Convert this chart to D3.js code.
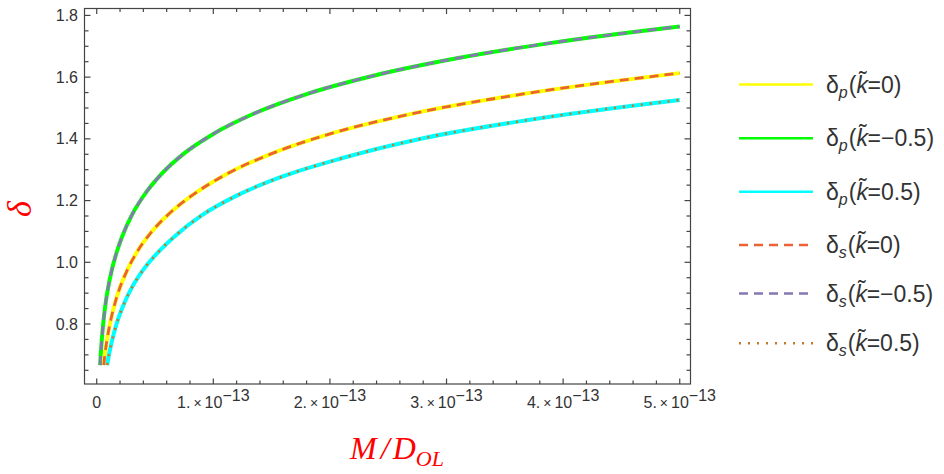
<!DOCTYPE html>
<html>
<head>
<meta charset="utf-8">
<script src="https://cdn.jsdelivr.net/npm/d3@7"></script>
<style>
  body { margin: 0; background: #fff; }
  svg { display: block; font-family: "Liberation Sans", Arial, sans-serif; }
</style>
</head>
<body>
<svg width="944" height="474"></svg>
<script>
// M/D_OL values are in units of 1e-13
const massNeg  = [0.029, 0.035, 0.045, 0.06, 0.08, 0.1, 0.13, 0.17, 0.22, 0.3, 0.4, 0.55, 0.75, 1.0, 1.35, 1.8, 2.4, 3.1, 3.9, 5.0];
const deltaNeg = [0.667, 0.704, 0.756, 0.817, 0.877, 0.922, 0.976, 1.031, 1.085, 1.152, 1.214, 1.284, 1.353, 1.416, 1.482, 1.545, 1.607, 1.662, 1.711, 1.764];

const massZero  = [0.06, 0.07, 0.09, 0.12, 0.16, 0.2, 0.26, 0.34, 0.45, 0.6, 0.8, 1.1, 1.5, 2.0, 2.7, 3.6, 5.0];
const deltaZero = [0.667, 0.70, 0.753, 0.812, 0.872, 0.919, 0.973, 1.030, 1.089, 1.150, 1.212, 1.283, 1.352, 1.416, 1.481, 1.542, 1.613];

const massPos  = [0.09, 0.105, 0.13, 0.17, 0.23, 0.3, 0.4, 0.52, 0.68, 0.9, 1.2, 1.6, 2.1, 2.8, 3.7, 5.0];
const deltaPos = [0.667, 0.70, 0.744, 0.80, 0.862, 0.917, 0.976, 1.030, 1.088, 1.152, 1.216, 1.279, 1.337, 1.402, 1.461, 1.526];

const yMajor = [0.8, 1.0, 1.2, 1.4, 1.6, 1.8];
const yLabels = ["0.8", "1.0", "1.2", "1.4", "1.6", "1.8"];
const xMajor = [0, 1, 2, 3, 4, 5];
const xMant = ["0", "1.", "2.", "3.", "4.", "5."];

const legendSub = ["p", "p", "p", "s", "s", "s"];
const legendK = ["0", "\u22120.5", "0.5", "0", "\u22120.5", "0.5"];

const svg = d3.select("svg");
const x = d3.scaleLinear().domain([-0.109, 5.094]).range([84, 690.7]);
const y = d3.scaleLinear().domain([0.6056, 1.8224]).range([384, 8.5]);

// draw order: solid curves first, then the dashed/dotted overlays
const series = [
  {m: massNeg,  d: deltaNeg,  color: "#00ff00", w: 4,   dash: null,  row: 1},
  {m: massZero, d: deltaZero, color: "#ffff00", w: 4,   dash: null,  row: 0},
  {m: massPos,  d: deltaPos,  color: "#00ffff", w: 4,   dash: null,  row: 2},
  {m: massZero, d: deltaZero, color: "#eb6235", w: 2.8, dash: "9,6", row: 3},
  {m: massNeg,  d: deltaNeg,  color: "#8778b3", w: 2.8, dash: "9,6", row: 4},
  {m: massPos,  d: deltaPos,  color: "#c9782a", w: 2.6, dash: "2,7", row: 5}
];

const line = d3.line().x(p => x(p[0])).y(p => y(p[1])).curve(d3.curveMonotoneX);

svg.append("g").selectAll("path").data(series).enter().append("path")
  .attr("d", s => line(s.m.map((v, i) => [v, s.d[i]])))
  .attr("fill", "none")
  .attr("stroke", s => s.color)
  .attr("stroke-width", s => s.w)
  .attr("stroke-dasharray", s => s.dash);

// frame with ticks on all sides
const frame = svg.append("g").attr("stroke", "#444").attr("stroke-width", 1.2);
frame.append("rect").attr("x", 84.5).attr("y", 8.5).attr("width", 606).attr("height", 375.5).attr("fill", "none");

const yMinor = d3.range(0.65, 1.81, 0.05).filter(v => !yMajor.some(m => Math.abs(m - v) < 1e-6));
const xMinor = d3.range(0.2, 5.01, 0.2).filter(v => !xMajor.some(m => Math.abs(m - v) < 1e-6));

yMajor.concat(yMinor).forEach(v => {
  const len = yMajor.includes(v) ? 6 : 4;
  frame.append("line").attr("x1", 84.5).attr("x2", 84.5 + len).attr("y1", y(v)).attr("y2", y(v));
  frame.append("line").attr("x1", 690.5).attr("x2", 690.5 - len).attr("y1", y(v)).attr("y2", y(v));
});
xMajor.concat(xMinor).forEach(v => {
  const len = xMajor.includes(v) ? 5.5 : 3.5;
  frame.append("line").attr("x1", x(v)).attr("x2", x(v)).attr("y1", 384).attr("y2", 384 - len);
  frame.append("line").attr("x1", x(v)).attr("x2", x(v)).attr("y1", 8.5).attr("y2", 8.5 + len);
});

// tick labels
svg.append("g").selectAll("text").data(yMajor).enter().append("text")
  .attr("x", 78).attr("y", v => y(v) + 5.5)
  .attr("text-anchor", "end").attr("font-size", 16).attr("fill", "#333")
  .text((v, i) => yLabels[i]);

const xl = svg.append("g").selectAll("text").data(xMajor).enter().append("text")
  .attr("x", v => x(v)).attr("y", 408)
  .attr("text-anchor", "middle").attr("font-size", 16).attr("fill", "#333");
xl.each(function(v, i) {
  const t = d3.select(this);
  t.append("tspan").text(xMant[i]);
  if (i > 0) {
    t.append("tspan").attr("dx", 3).attr("font-size", 14).text("\u00d7");
    t.append("tspan").attr("dx", 3).text("10");
    t.append("tspan").attr("dy", -7).attr("font-size", 16).text("\u221213");
  }
});

// axis titles
svg.append("text").attr("transform", "translate(31,209) rotate(-90)")
  .attr("text-anchor", "middle").attr("font-family", "Liberation Serif, Times New Roman, serif")
  .attr("font-style", "italic").attr("font-size", 34).attr("fill", "#ff0000").text("\u03b4");

const xt = svg.append("text").attr("x", 397).attr("y", 459)
  .attr("text-anchor", "middle").attr("font-family", "Liberation Serif, Times New Roman, serif")
  .attr("font-style", "italic").attr("font-size", 32).attr("fill", "#ff0000");
xt.append("tspan").text("M");
xt.append("tspan").attr("dx", 4).text("/");
xt.append("tspan").attr("dx", 3).text("D");
xt.append("tspan").attr("dy", 7).attr("font-size", 22).text("OL");

// legend
const legendY = [84.5, 138.3, 191.7, 245, 293.5, 343.3];
const lg = svg.append("g").selectAll("g").data(series).enter().append("g")
  .attr("transform", s => "translate(0," + legendY[s.row] + ")");
lg.append("line").attr("x1", 739).attr("x2", 813).attr("y1", 0).attr("y2", 0)
  .attr("stroke", s => s.color).attr("stroke-width", 2.6)
  .attr("stroke-dasharray", s => s.dash);
lg.append("text").attr("x", 826).attr("y", 8).attr("font-size", 23).attr("fill", "#333")
  .each(function(s) {
    const t = d3.select(this);
    t.append("tspan").text("\u03b4");
    t.append("tspan").attr("dy", 5).attr("font-size", 16).attr("font-style", "italic").text(legendSub[s.row]);
    t.append("tspan").attr("dy", -5).attr("dx", 1).text("(");
    t.append("tspan").attr("font-style", "italic").text("k");
    // tilde drawn above the k
    t.append("tspan").attr("dx", -9).attr("dy", -5).text("\u02dc");
    t.append("tspan").attr("dx", 1).attr("dy", 5).text("=" + legendK[s.row] + ")");
  });
</script>
</body>
</html>
